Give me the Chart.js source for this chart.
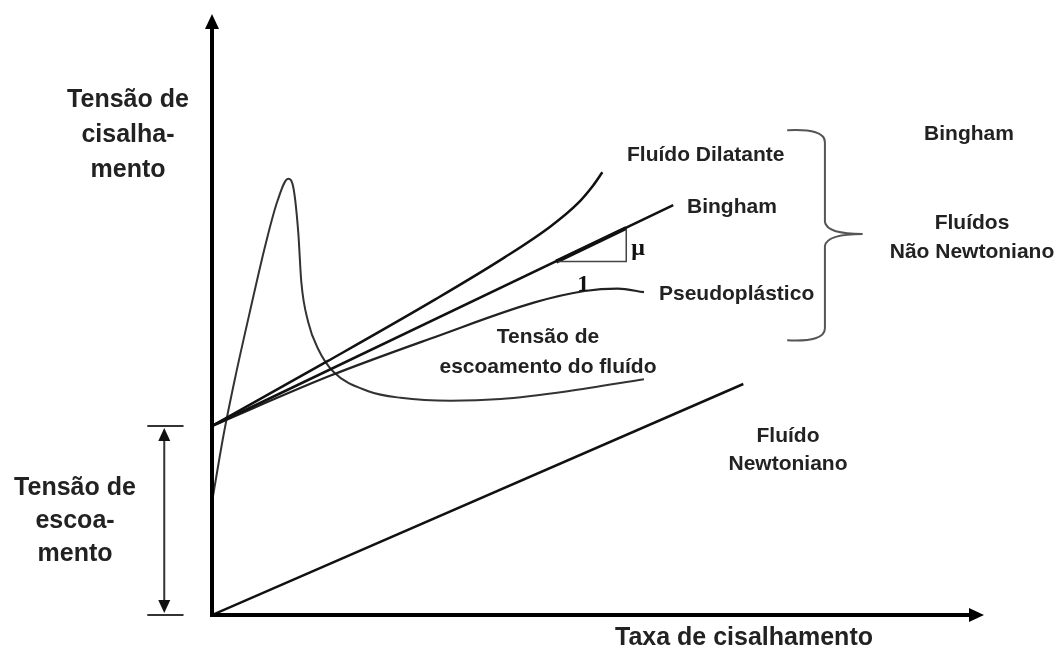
<!DOCTYPE html>
<html>
<head>
<meta charset="utf-8">
<script src="https://cdn.jsdelivr.net/npm/chart.js@4.4.1/dist/chart.umd.min.js"></script>
<style>
  html, body { margin: 0; padding: 0; background: #ffffff; }
  #wrap { position: relative; width: 1056px; height: 648px; }
</style>
</head>
<body>
<div id="wrap"><canvas id="rheoChart"></canvas></div>
<script>
// --- Curve data (x = taxa de cisalhamento, y = tensão de cisalhamento, arbitrary units 0-100) ---
const yieldStress = 31.5;

const newtonianX = [0, 69];
const newtonianY = [0, 38.5];

const binghamX = [0, 59.9];
const binghamY = [yieldStress, 68.3];

const dilatanteX = [0, 15, 29, 38, 44, 47.5, 49.5, 50.7];
const dilatanteY = [yieldStress, 42.3, 52.6, 59.6, 64.8, 68.6, 71.6, 73.8];

const pseudoX = [0, 15.4, 28.9, 41.9, 48.4, 52.7, 56.1];
const pseudoY = [yieldStress, 39.9, 46.3, 52.1, 54.0, 54.4, 53.8];

const escoamentoX = [0, 1.5, 3, 5, 7, 8.5, 9.9, 10.6, 11.2, 11.6, 12.5, 13.8, 15.8, 20.3, 24.5, 31.0, 37.5, 46.2, 56.1];
const escoamentoY = [18.8, 30, 39.5, 51, 62, 69, 72.7, 71.0, 63.8, 55.5, 48.8, 44.3, 40.5, 37.3, 36.2, 35.7, 36.0, 37.3, 39.3];

// slope triangle (mu) on the Bingham line
const triX = [44.7, 53.8, 53.8];
const triY = [58.9, 58.9, 64.5];

function toPoints(xs, ys) {
    return xs.map((x, i) => ({ x: x, y: ys[i] }));
}

// --- Text annotations (pixel positions) ---
const bigFont = 'bold 25px "Liberation Sans", Arial, sans-serif';
const smallFont = 'bold 21px "Liberation Sans", Arial, sans-serif';
const annotations = [
    { lines: ['Tensão de', 'cisalha-', 'mento'], x: 128, y: 107, step: 35, align: 'center', font: bigFont },
    { lines: ['Tensão de', 'escoa-', 'mento'], x: 75, y: 495, step: 33, align: 'center', font: bigFont },
    { lines: ['Taxa de cisalhamento'], x: 615, y: 645, step: 0, align: 'left', font: bigFont },
    { lines: ['Fluído Dilatante'], x: 627, y: 161, step: 0, align: 'left', font: smallFont },
    { lines: ['Bingham'], x: 687, y: 213, step: 0, align: 'left', font: smallFont },
    { lines: ['Pseudoplástico'], x: 659, y: 300, step: 0, align: 'left', font: smallFont },
    { lines: ['Tensão de', 'escoamento do fluído'], x: 548, y: 343, step: 30, align: 'center', font: smallFont },
    { lines: ['Fluído', 'Newtoniano'], x: 788, y: 442, step: 28, align: 'center', font: smallFont },
    { lines: ['Bingham'], x: 969, y: 140, step: 0, align: 'center', font: smallFont },
    { lines: ['Fluídos', 'Não Newtoniano'], x: 972, y: 229, step: 29, align: 'center', font: smallFont }
];

function arrowHead(c, tipX, tipY, dx, dy, len, half) {
    // dx, dy: unit direction of the arrow
    const bx = tipX - dx * len, by = tipY - dy * len;
    c.beginPath();
    c.moveTo(tipX, tipY);
    c.lineTo(bx - dy * half, by + dx * half);
    c.lineTo(bx + dy * half, by - dx * half);
    c.closePath();
    c.fill();
}

const decorPlugin = {
    id: 'decor',
    afterDatasetsDraw(chart) {
        const c = chart.ctx;
        const xs = chart.scales.x, ys = chart.scales.y;
        const x0 = xs.getPixelForValue(0), y0 = ys.getPixelForValue(0);
        c.save();

        // axes with arrows
        c.strokeStyle = '#000';
        c.fillStyle = '#000';
        c.lineWidth = 4;
        c.beginPath();
        c.moveTo(x0, y0 + 2);
        c.lineTo(x0, 28);
        c.moveTo(x0 - 2, y0);
        c.lineTo(970, y0);
        c.stroke();
        arrowHead(c, x0, 14, 0, -1, 15, 7);
        arrowHead(c, 984, y0, 1, 0, 15, 7);

        // yield stress dimension arrow
        const dimX = xs.getPixelForValue(-6.2);
        const capL = xs.getPixelForValue(-8.4), capR = xs.getPixelForValue(-3.7);
        const yTop = ys.getPixelForValue(yieldStress);
        c.strokeStyle = '#333';
        c.fillStyle = '#111';
        c.lineWidth = 2;
        c.beginPath();
        c.moveTo(capL, yTop); c.lineTo(capR, yTop);
        c.moveTo(capL, y0); c.lineTo(capR, y0);
        c.moveTo(dimX, yTop + 10); c.lineTo(dimX, y0 - 10);
        c.stroke();
        arrowHead(c, dimX, yTop + 2, 0, -1, 13, 6);
        arrowHead(c, dimX, y0 - 2, 0, 1, 13, 6);

        // curly brace grouping the non-Newtonian curves
        const bxL = xs.getPixelForValue(74.7), bxM = xs.getPixelForValue(79.6), bxT = xs.getPixelForValue(84.5);
        const byT = ys.getPixelForValue(80.8), byM = ys.getPixelForValue(63.5), byB = ys.getPixelForValue(45.8);
        c.strokeStyle = '#555';
        c.lineWidth = 2;
        c.beginPath();
        c.moveTo(bxL, byT);
        c.quadraticCurveTo(bxM, byT - 2, bxM, byT + 12);
        c.lineTo(bxM, byM - 12);
        c.quadraticCurveTo(bxM + 2, byM, bxT, byM);
        c.moveTo(bxT, byM);
        c.quadraticCurveTo(bxM + 2, byM, bxM, byM + 12);
        c.lineTo(bxM, byB - 12);
        c.quadraticCurveTo(bxM, byB + 2, bxL, byB);
        c.stroke();

        // mu and 1 labels of the slope triangle
        c.fillStyle = '#111';
        c.font = 'bold 24px "Liberation Serif", "Times New Roman", serif';
        c.textAlign = 'left';
        c.textBaseline = 'alphabetic';
        c.fillText('\u03bc', xs.getPixelForValue(triX[1]) + 5, ys.getPixelForValue(61.3) + 8);
        c.textAlign = 'center';
        c.fillText('1', xs.getPixelForValue(48.2), ys.getPixelForValue(55.7) + 10);

        // text labels
        c.fillStyle = '#222';
        annotations.forEach(a => {
            c.font = a.font;
            c.textAlign = a.align;
            a.lines.forEach((t, i) => c.fillText(t, a.x, a.y + i * a.step));
        });
        c.restore();
    }
};

function curve(data, width, color, smooth) {
    return {
        data: data,
        showLine: true,
        borderColor: color,
        borderWidth: width,
        pointRadius: 0,
        fill: false,
        cubicInterpolationMode: smooth ? 'monotone' : 'default',
        tension: 0
    };
}

new Chart(document.getElementById('rheoChart'), {
    type: 'scatter',
    data: {
        datasets: [
            curve(toPoints(newtonianX, newtonianY), 2.5, '#111', false),
            curve(toPoints(binghamX, binghamY), 2.5, '#111', false),
            curve(toPoints(dilatanteX, dilatanteY), 2.5, '#111', true),
            curve(toPoints(pseudoX, pseudoY), 2.2, '#222', true),
            curve(toPoints(escoamentoX, escoamentoY), 2, '#333', true),
            curve(toPoints(triX, triY), 1.5, '#444', false),
            curve(toPoints([triX[0], triX[2]], [triY[0], triY[2]]), 4, '#111', false)
        ]
    },
    options: {
        responsive: true,
        maintainAspectRatio: false,
        animation: false,
        events: [],
        layout: { padding: { left: 212, right: 74, top: 15, bottom: 33 } },
        plugins: {
            legend: { display: false },
            tooltip: { enabled: false }
        },
        scales: {
            x: { type: 'linear', min: 0, max: 100, display: false },
            y: { type: 'linear', min: 0, max: 100, display: false }
        }
    },
    plugins: [decorPlugin]
});
</script>
</body>
</html>
